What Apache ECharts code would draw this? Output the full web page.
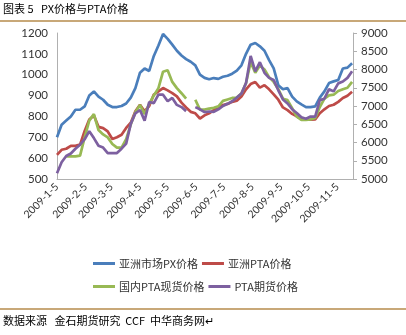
<!DOCTYPE html>
<html>
<head>
<meta charset="utf-8">
<script src="https://cdn.jsdelivr.net/npm/echarts@6/dist/echarts.min.js"></script>
<style>
html,body{margin:0;padding:0;background:#fff;}
#c{width:406px;height:335px;}
</style>
</head>
<body>
<div id="c"></div>
<script>
// Sample dates (read points)
const sampleDates = [
 '2009-1-5','2009-1-10','2009-1-15','2009-1-20','2009-1-25','2009-1-30',
 '2009-2-4','2009-2-9','2009-2-14','2009-2-19','2009-2-24',
 '2009-3-1','2009-3-6','2009-3-11','2009-3-16','2009-3-21','2009-3-26','2009-3-31',
 '2009-4-5','2009-4-10','2009-4-15','2009-4-20','2009-4-25','2009-4-30',
 '2009-5-5','2009-5-10','2009-5-15','2009-5-20','2009-5-25','2009-5-30',
 '2009-6-4','2009-6-9','2009-6-14','2009-6-19','2009-6-24','2009-6-29',
 '2009-7-4','2009-7-9','2009-7-14','2009-7-19','2009-7-24','2009-7-29',
 '2009-8-3','2009-8-8','2009-8-13','2009-8-18','2009-8-23','2009-8-28',
 '2009-9-2','2009-9-7','2009-9-12','2009-9-17','2009-9-22','2009-9-27',
 '2009-10-2','2009-10-7','2009-10-12','2009-10-17','2009-10-22','2009-10-27',
 '2009-11-1','2009-11-6','2009-11-11','2009-11-16','2009-11-21'
];
// 亚洲市场PX价格 (left axis, USD/t)
const pxAsia = [
 700,760,780,800,832,832,
 848,900,920,895,880,
 856,845,845,850,862,890,936,
 1010,1030,1018,1090,1140,1195,
 1172,1144,1115,1092,1075,1062,
 1045,1000,985,978,984,980,
 990,995,1005,1020,1045,1100,
 1144,1152,1136,1115,1070,1030,
 950,930,936,895,872,858,
 845,845,848,890,920,960,
 968,975,1030,1034,1055
];
// 亚洲PTA价格 (left axis, USD/t)
const ptaAsia = [
 616,640,645,659,659,665,
 730,785,805,750,744,
 728,692,700,712,745,770,825,
 856,825,850,905,920,936,
 925,912,896,866,843,822,
 815,790,805,815,830,845,
 855,860,870,875,895,930,
 955,965,938,950,930,906,
 880,843,830,812,800,790,
 784,784,786,815,834,850,
 856,870,888,899,918
];
// 国内PTA现货价格 (right axis, CNY/t)
const ptaSpot = [
 null,null,5620,5620,5620,5640,
 6140,6600,6780,6340,6220,
 6140,5960,5860,5860,6090,6490,6830,
 7030,6780,7060,7290,7490,7940,
 7980,7660,7490,7350,7200,null,
 7170,6900,6900,6930,6950,6990,
 7140,7180,7220,7230,7340,7630,
 8200,7910,8110,8000,7790,7660,
 7460,7200,7160,6940,6710,6620,
 6620,6630,6670,6970,7200,7290,
 7310,7410,7460,7500,7660
];
// PTA期货价格 (right axis, CNY/t)
const ptaFut = [
 5160,5460,5630,5700,5830,5940,
 6090,6310,6120,5910,5860,
 5710,5710,5710,5830,5970,6510,6800,
 6890,6600,7110,7080,7310,7310,
 7130,7220,7030,6970,6860,null,
 6970,6910,6830,6850,6840,6910,
 7000,7060,7130,7230,7340,7630,
 8370,7950,8200,7910,7770,7710,
 7430,7180,7070,6910,6810,6690,
 6650,6710,6710,7160,7200,7460,
 7400,7620,7670,7770,7950
];
const seriesNames = ['亚洲市场PX价格','亚洲PTA价格','国内PTA现货价格','PTA期货价格'];
const colors = ['#4a7ebb','#be4b48','#98b954','#7d60a0'];

// daily category axis 2009-1-5 .. 2009-11-22
const categories = [];
for (let t = new Date(2009,0,5); t <= new Date(2009,10,22); t.setDate(t.getDate()+1)) {
  categories.push(t.getFullYear() + '-' + (t.getMonth()+1) + '-' + t.getDate());
}
function pairs(vals){ return sampleDates.map((d,i)=>[d, vals[i]]); }

const font = 'Lato, "Noto Sans CJK SC", sans-serif';
const chart = echarts.init(document.getElementById('c'), null, {renderer:'canvas'});
const legendCommon = {
  left: 88, icon: 'rect', itemWidth: 22, itemHeight: 3, itemGap: 4,
  textStyle: {fontSize: 11, color: '#333', fontFamily: '"Noto Sans CJK SC", sans-serif', width: 88, padding:[0,0,0,-1]}
};
chart.setOption({
  animation: false,
  backgroundColor: '#fff',
  textStyle: {fontFamily: font},
  grid: {left: 57, right: 53, top: 33, bottom: 156, containLabel: false},
  legend: [
    Object.assign({top: 253, data: [seriesNames[0], seriesNames[1]]}, legendCommon),
    Object.assign({top: 276, data: [seriesNames[2], seriesNames[3]]}, legendCommon)
  ],
  xAxis: {
    type: 'category', data: categories, boundaryGap: false,
    axisLine: {lineStyle: {color: '#b0b0b0'}},
    axisTick: {show: false},
    axisLabel: {
      interval: (idx, val) => val.split('-')[2] === '5',
      rotate: 45, fontSize: 10.5, color: '#333', margin: 6, fontFamily: font
    }
  },
  yAxis: [
    {type: 'value', min: 500, max: 1200, interval: 100, position: 'left',
     axisLine: {show: true, lineStyle: {color: '#b0b0b0'}}, axisTick: {show: false},
     splitLine: {show: false},
     axisLabel: {fontSize: 11.5, color: '#333', margin: 9, fontFamily: font, formatter: v => String(v)}},
    {type: 'value', min: 5000, max: 9000, interval: 500, position: 'right',
     axisLine: {show: true, lineStyle: {color: '#b0b0b0'}},
     axisTick: {show: true, length: 4, lineStyle: {color: '#b0b0b0'}},
     splitLine: {show: false},
     axisLabel: {fontSize: 11.5, color: '#333', margin: 8, fontFamily: font, formatter: v => String(v)}}
  ],
  series: [
    {name: seriesNames[0], type: 'line', yAxisIndex: 0, data: pairs(pxAsia)},
    {name: seriesNames[1], type: 'line', yAxisIndex: 0, data: pairs(ptaAsia)},
    {name: seriesNames[2], type: 'line', yAxisIndex: 1, data: pairs(ptaSpot)},
    {name: seriesNames[3], type: 'line', yAxisIndex: 1, data: pairs(ptaFut)}
  ].map((s,i)=>Object.assign(s, {
    showSymbol: false, symbol: 'none', connectNulls: false,
    color: colors[i], lineStyle: {width: 2.7, color: colors[i]}
  })),
  graphic: [
    {type: 'text', left: 3, top: 3, style: {text: '图表 5   PX价格与PTA价格', fontSize: 11, fill: '#000', fontFamily: '"Noto Sans CJK SC", sans-serif'}},
    {type: 'rect', shape: {x: 0, y: 20, width: 406, height: 2}, style: {fill: '#c8a878'}},
    {type: 'rect', shape: {x: 0, y: 308, width: 406, height: 2}, style: {fill: '#c8a878'}},
    {type: 'text', left: 3, top: 315, style: {text: '数据来源   金石期货研究  CCF  中华商务网↵', fontSize: 11, fill: '#000', fontFamily: '"Noto Sans CJK SC", sans-serif'}}
  ]
});
</script>
</body>
</html>
